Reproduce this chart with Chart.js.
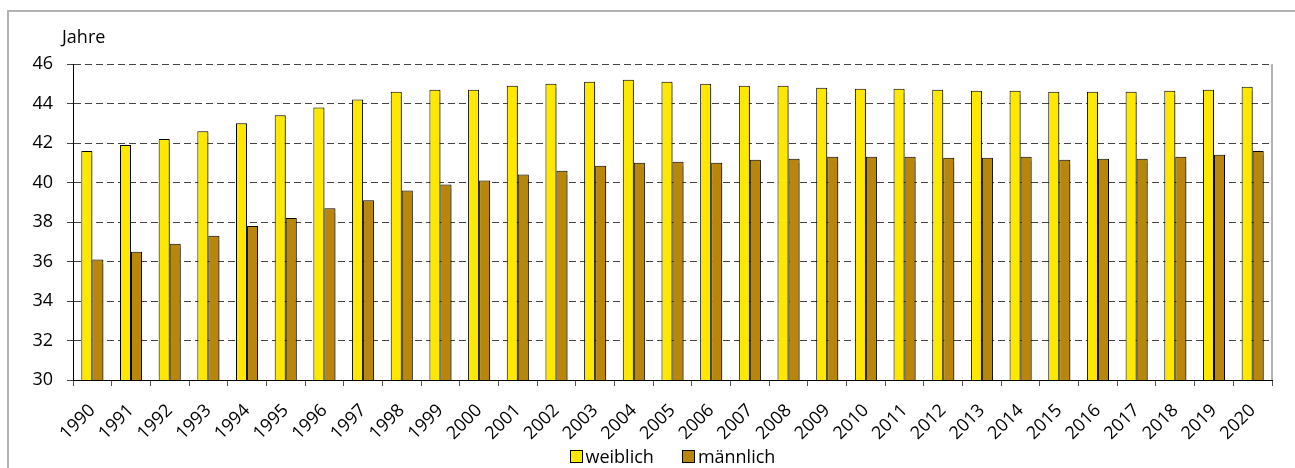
<!DOCTYPE html>
<html lang="de">
<head>
    <meta charset="UTF-8" />
    <title>Durchschnittsalter</title>
    <script src="https://cdn.jsdelivr.net/npm/chart.js"></script>
    <style>
        html, body {
            margin: 0;
            padding: 0;
            background: #ffffff;
            overflow: hidden;
            font-family: 'Open Sans', 'Noto Sans', sans-serif;
        }
        /* Rahmen um das Diagramm (rechts/unten ausserhalb des Bildes) */
        .frame {
            position: absolute;
            left: 7px;
            top: 10px;
            width: 1400px;
            height: 600px;
            border-left: 2px solid #b3b3b3;
            border-top: 2px solid #b3b3b3;
        }
        #chart {
            position: absolute;
            left: 0;
            top: 0;
        }
        .legend {
            position: absolute;
            top: 444px;
            left: 0;
            display: flex;
            align-items: center;
            font-size: 18px;
            color: #000;
            white-space: nowrap;
        }
        .legend .item {
            display: flex;
            align-items: center;
        }
        .legend .item + .item {
            margin-left: 28px;
        }
        .legend .box {
            width: 11px;
            height: 11px;
            border: 1px solid #000;
            margin-right: 3px;
        }
    </style>
</head>
<body>
<div class="frame"></div>
<canvas id="chart" width="1295" height="468"></canvas>
<div class="legend" id="legend"></div>

<script>
    // Daten
    const years = ['1990', '1991', '1992', '1993', '1994', '1995', '1996', '1997', '1998', '1999',
                   '2000', '2001', '2002', '2003', '2004', '2005', '2006', '2007', '2008', '2009',
                   '2010', '2011', '2012', '2013', '2014', '2015', '2016', '2017', '2018', '2019', '2020'];
    const weiblich = [41.6, 41.9, 42.2, 42.6, 43.0, 43.4, 43.8, 44.2, 44.6, 44.7,
                      44.7, 44.9, 45.0, 45.1, 45.2, 45.1, 45.0, 44.9, 44.9, 44.8,
                      44.75, 44.75, 44.7, 44.65, 44.65, 44.6, 44.6, 44.6, 44.65, 44.7, 44.85];
    const maennlich = [36.1, 36.5, 36.9, 37.3, 37.8, 38.2, 38.7, 39.1, 39.6, 39.9,
                       40.1, 40.4, 40.6, 40.85, 41.0, 41.05, 41.0, 41.15, 41.2, 41.3,
                       41.3, 41.3, 41.25, 41.25, 41.3, 41.15, 41.2, 41.2, 41.3, 41.4, 41.6];
    const yTicks = [30, 32, 34, 36, 38, 40, 42, 44, 46];

    const FONT = "'Open Sans', 'Noto Sans', sans-serif";

    // Achsentitel "Jahre", rechter Rahmen und Schatten der Balken
    const extras = {
        id: 'extras',
        beforeDatasetsDraw(chart) {
            const ctx = chart.ctx;
            ctx.save();
            ctx.shadowColor = 'rgba(0,0,0,0.35)';
            ctx.shadowOffsetX = 2;
            ctx.shadowOffsetY = 1;
            ctx.shadowBlur = 1;
        },
        afterDatasetsDraw(chart) {
            chart.ctx.restore();
        },
        afterDraw(chart) {
            const ctx = chart.ctx;
            const a = chart.chartArea;
            ctx.save();
            ctx.strokeStyle = '#9a9a9a';
            ctx.lineWidth = 1.5;
            ctx.beginPath();
            ctx.moveTo(a.right, a.top);
            ctx.lineTo(a.right, a.bottom);
            ctx.stroke();
            ctx.fillStyle = '#000';
            ctx.font = '18px ' + FONT;
            ctx.textBaseline = 'middle';
            ctx.textAlign = 'left';
            ctx.fillText('Jahre', 62, 38);
            ctx.restore();
        }
    };

    const chart = new Chart(document.getElementById('chart'), {
        type: 'bar',
        data: {
            labels: years,
            datasets: [
                {
                    label: 'weiblich',
                    data: weiblich,
                    backgroundColor: '#ffe800',
                    borderColor: '#000000',
                    borderWidth: 1,
                    barPercentage: 1.0,
                    categoryPercentage: 0.57
                },
                {
                    label: 'männlich',
                    data: maennlich,
                    backgroundColor: '#b8860b',
                    borderColor: '#000000',
                    borderWidth: 1,
                    barPercentage: 1.0,
                    categoryPercentage: 0.57
                }
            ]
        },
        options: {
            responsive: false,
            animation: false,
            layout: {
                padding: { left: 0, right: 23, top: 64, bottom: 0 }
            },
            plugins: {
                tooltip: { enabled: false },
                legend: { display: false }
            },
            scales: {
                x: {
                    grid: {
                        drawOnChartArea: false,
                        drawTicks: true,
                        tickLength: 6,
                        color: '#555'
                    },
                    border: { color: '#000', width: 1 },
                    ticks: {
                        font: { family: FONT, size: 18 },
                        color: '#000',
                        maxRotation: 45,
                        minRotation: 45,
                        autoSkip: false,
                        padding: 14
                    },
                    afterFit(scale) { scale.height = 88; }
                },
                y: {
                    min: 30,
                    max: 46,
                    afterBuildTicks(scale) {
                        scale.ticks = yTicks.map(v => ({ value: v }));
                    },
                    grid: {
                        color: '#444',
                        tickColor: '#444',
                        tickLength: 6,
                        tickBorderDash: [7, 4]
                    },
                    border: { color: '#000', width: 1, dash: [7, 4] },
                    ticks: {
                        font: { family: FONT, size: 18 },
                        color: '#000',
                        padding: 14
                    },
                    afterFit(scale) { scale.width = 73; }
                }
            }
        },
        plugins: [extras]
    });

    // Legende unter der Zeichenfläche, mittig zur Zeichenfläche
    const legend = document.getElementById('legend');
    chart.data.datasets.forEach(ds => {
        const item = document.createElement('span');
        item.className = 'item';
        item.innerHTML = '<span class="box" style="background:' + ds.backgroundColor + '"></span>' + ds.label;
        legend.appendChild(item);
    });
    const area = chart.chartArea;
    legend.style.left = ((area.left + area.right) / 2 - legend.offsetWidth / 2) + 'px';
</script>
</body>
</html>
